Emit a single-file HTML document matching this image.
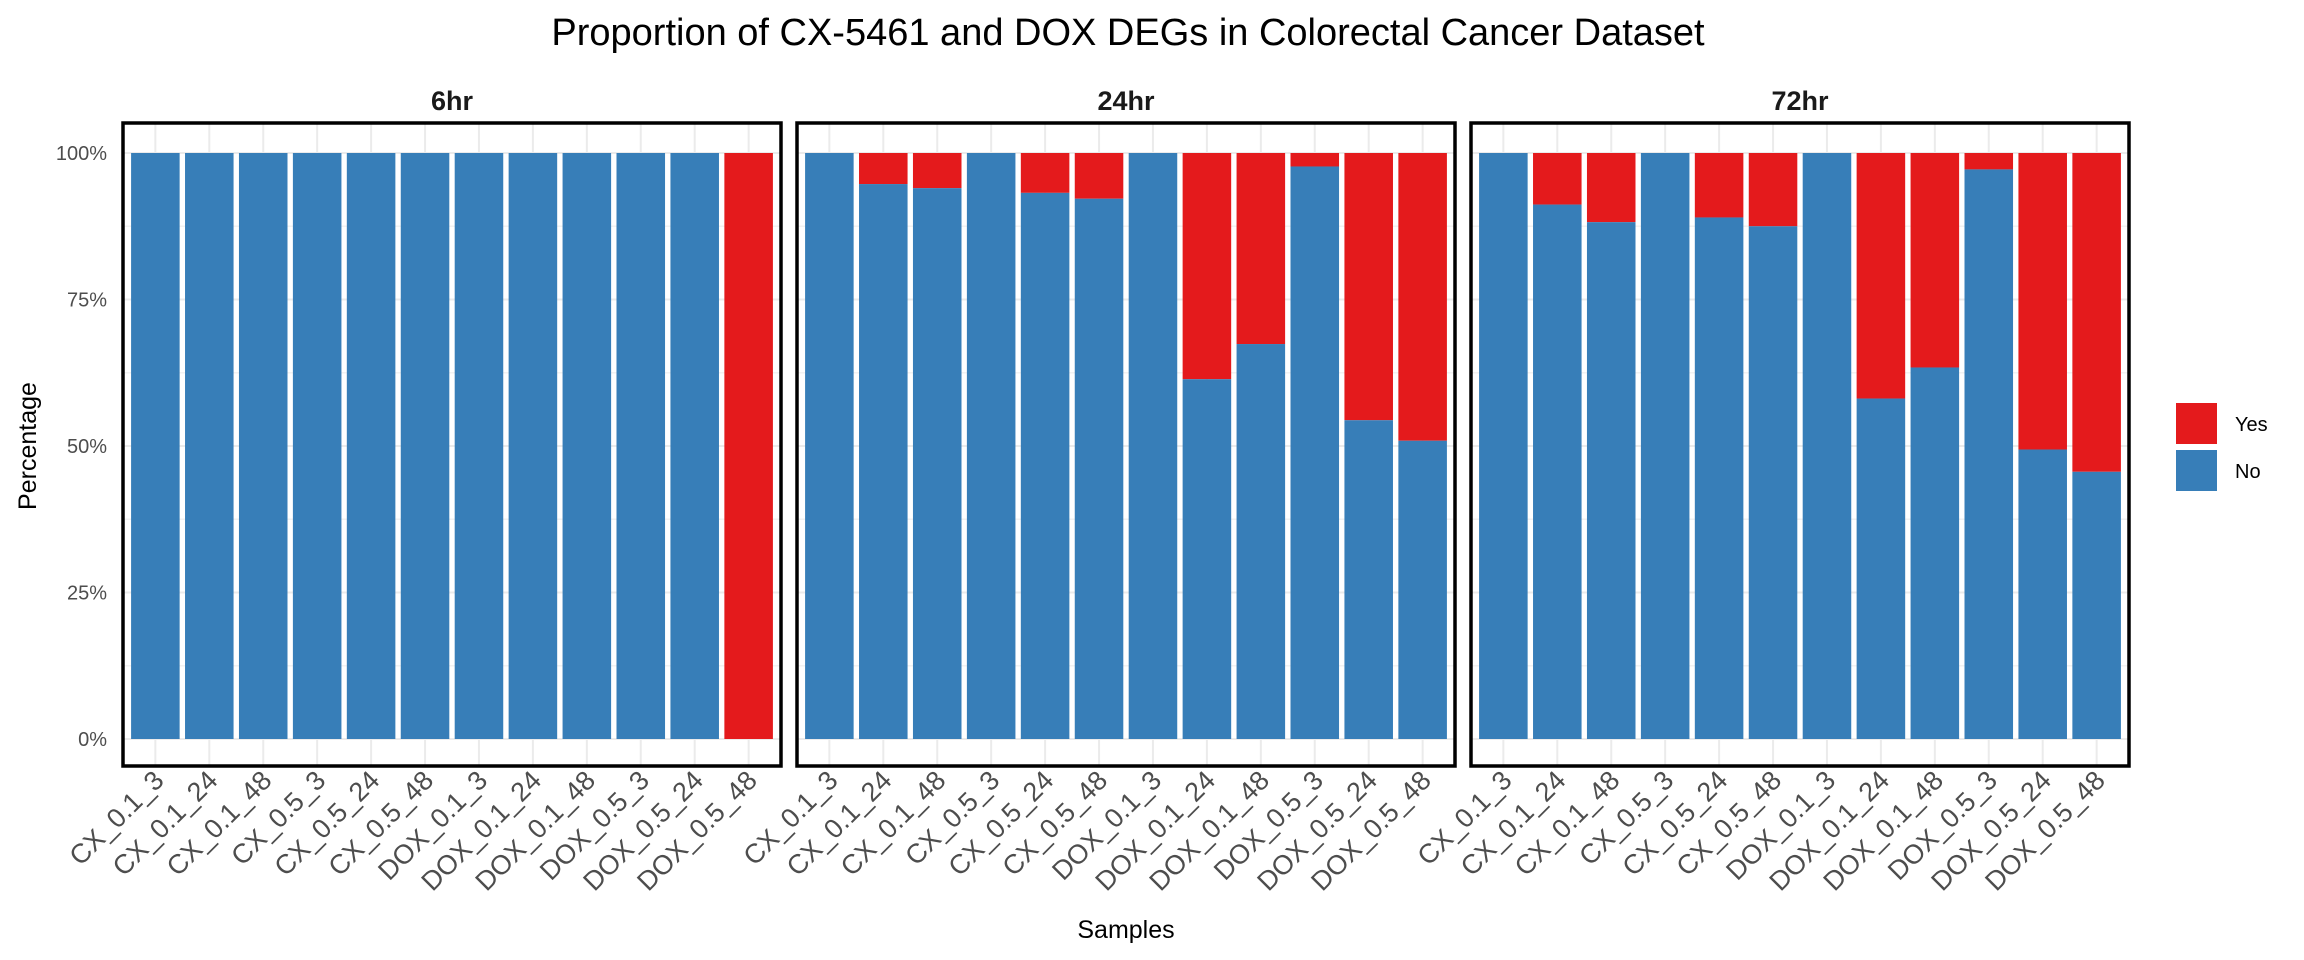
<!DOCTYPE html>
<html><head><meta charset="utf-8"><style>
html,body{margin:0;padding:0;background:#fff;}
svg{display:block;font-family:"Liberation Sans",sans-serif;}
</style></head><body>
<svg id="chart" width="2304" height="960" viewBox="0 0 2304 960" xmlns="http://www.w3.org/2000/svg">
<text x="1128" y="45" font-size="38" text-anchor="middle" fill="#000">Proportion of CX-5461 and DOX DEGs in Colorectal Cancer Dataset</text>
<text transform="translate(36,446) rotate(-90)" font-size="25" text-anchor="middle" fill="#000">Percentage</text>
<text x="1126" y="938" font-size="25" text-anchor="middle" fill="#000">Samples</text>
<g>
<rect x="2176" y="403" width="41" height="41" fill="#E41A1C"/>
<text x="2235" y="431" font-size="20" fill="#000">Yes</text>
<rect x="2176" y="450" width="41" height="41" fill="#377EB8"/>
<text x="2235" y="478" font-size="20" fill="#000">No</text>
</g>
<g id="panels"></g>
</svg>
<script>
const categories = ["CX_0.1_3","CX_0.1_24","CX_0.1_48","CX_0.5_3","CX_0.5_24","CX_0.5_48","DOX_0.1_3","DOX_0.1_24","DOX_0.1_48","DOX_0.5_3","DOX_0.5_24","DOX_0.5_48"];
const facets = ["6hr","24hr","72hr"];
const noPct6 = [100,100,100,100,100,100,100,100,100,100,100,0];
const noPct24 = [100,94.7,94.0,100,93.2,92.2,100,61.4,67.4,97.7,54.4,50.9];
const noPct72 = [100,91.2,88.2,100,89.0,87.5,100,58.1,63.4,97.2,49.4,45.6];
const yTicks = [0,25,50,75,100];
const yTickLabels = ["0%","25%","50%","75%","100%"];

const NS = "http://www.w3.org/2000/svg";
const g = document.getElementById("panels");
const noSeries = [noPct6, noPct24, noPct72];
const Y0 = 739, Y100 = 153, PT = 123, PB = 766, PW = 658;
function y(v){ return Y0 + (Y100 - Y0) * v / 100; }
function mk(tag, attrs, parent){ const e = document.createElementNS(NS, tag); for (const k in attrs) e.setAttribute(k, attrs[k]); (parent||g).appendChild(e); return e; }
const n = categories.length;
const step = PW / (n - 1 + 1.2);
facets.forEach((f, p) => {
  const L = 123 + p * 674;
  function x(i){ return L + (i + 0.6) * step; }
  const pg = mk("g", {});
  
  
  for (let v = 12.5; v < 100; v += 25) {
    const l = mk("line", {x1:L, x2:L+PW, y1:y(v), y2:y(v), stroke:"#f2f2f2", "stroke-width":1.5}, pg);
    
    
  }
  yTicks.forEach(v => {
    const l = mk("line", {x1:L, x2:L+PW, y1:y(v), y2:y(v), stroke:"#ebebeb", "stroke-width":2}, pg);
    
    
  });
  categories.forEach((c, i) => {
    const l = mk("line", {x1:x(i), x2:x(i), y1:PT, y2:PB, stroke:"#ebebeb", "stroke-width":2}, pg);
    
    
  });
  const vals = noSeries[p];
  const bw = step * 0.9;
  categories.forEach((c, i) => {
    const no = vals[i];
    const r1 = mk("rect", {x:x(i)-bw/2, width:bw, y:y(100), height:y(no)-y(100), fill:"#E41A1C"}, pg);
    
    
    const r2 = mk("rect", {x:x(i)-bw/2, width:bw, y:y(no), height:y(0)-y(no), fill:"#377EB8"}, pg);
    
    
    const t = mk("text", {transform:`translate(${x(i)+10},${PB+16}) rotate(-45)`, "text-anchor":"end", "font-size":27, fill:"#4d4d4d"}, pg);
    t.textContent = c;
    
    
  });
  const b = mk("rect", {x:L, y:PT, width:PW, height:PB-PT, fill:"none", stroke:"#000", "stroke-width":3.5}, pg);
  
  
  const s = mk("text", {x:L+PW/2, y:110, "text-anchor":"middle", "font-size":27, "font-weight":"bold", fill:"#1a1a1a"}, pg);
  s.textContent = f;
  
  
});
yTicks.forEach((v, i) => {
  const t = mk("text", {x:107, y:y(v)+7, "text-anchor":"end", "font-size":20, fill:"#4d4d4d"});
  t.textContent = yTickLabels[i];
  
  
});
</script>
</body></html>
